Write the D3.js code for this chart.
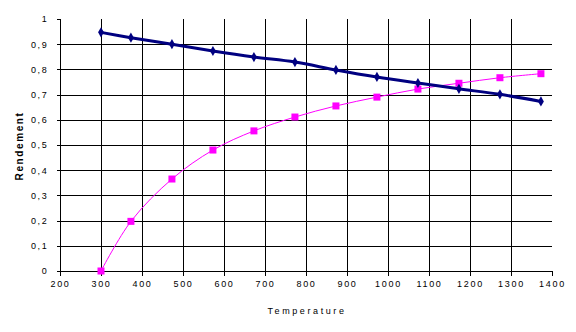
<!DOCTYPE html>
<html><head><meta charset="utf-8">
<script src="https://cdn.jsdelivr.net/npm/d3@7"></script>
<style>
html,body{margin:0;padding:0;background:#fff;}
text{font-family:Arial,"Liberation Sans",sans-serif;fill:#000;}
</style></head>
<body><svg id="c" width="576" height="332"></svg>
<script>
const temps = [300, 373, 473, 573, 673, 773, 873, 973, 1073, 1173, 1273, 1373];
const seriesBlue = [0.947, 0.926, 0.900, 0.873, 0.849, 0.829, 0.798, 0.770, 0.746, 0.723, 0.701, 0.673];
const seriesPink = [0.0, 0.197, 0.365, 0.480, 0.556, 0.611, 0.655, 0.690, 0.722, 0.745, 0.767, 0.783];
const xTicks = [200,300,400,500,600,700,800,900,1000,1100,1200,1300,1400];
const yTicks = [0,0.1,0.2,0.3,0.4,0.5,0.6,0.7,0.8,0.9,1];
const xTitle = "Temperature";
const yTitle = "Rendement";

const svg = d3.select("#c");
const L=60, R=552, T=19, B=271;
const x = d3.scaleLinear().domain([200,1400]).range([L,R]);
const y = d3.scaleLinear().domain([0,1]).range([B,T]);

// gridlines
const g = svg.append("g").attr("shape-rendering","crispEdges");
g.selectAll(".vg").data(xTicks.filter(d=>d>200 && d<1400)).enter().append("line")
  .attr("x1",d=>Math.round(x(d))+0.5).attr("x2",d=>Math.round(x(d))+0.5)
  .attr("y1",T).attr("y2",B).attr("stroke","#000").attr("stroke-width",1);
g.selectAll(".hg").data(yTicks.filter(d=>d>0 && d<1)).enter().append("line")
  .attr("x1",L).attr("x2",R)
  .attr("y1",d=>Math.round(y(d))+0.5).attr("y2",d=>Math.round(y(d))+0.5)
  .attr("stroke","#000").attr("stroke-width",1);

// axes
const xAxis = d3.axisBottom(x).tickValues(xTicks).tickSize(4).tickPadding(5).tickFormat(d=>d);
const yAxis = d3.axisLeft(y).tickValues(yTicks).tickSize(4).tickPadding(8)
  .tickFormat(d=> d===0 ? "0" : d===1 ? "1" : d3.format(".1f")(d).replace(".",","));
const gx = svg.append("g").attr("transform",`translate(0,${B+0.5})`).call(xAxis);
const gy = svg.append("g").attr("transform",`translate(${L+0.5},0)`).call(yAxis);
[gx,gy].forEach(a=>{
  a.attr("shape-rendering","crispEdges");
  a.select(".domain").attr("stroke","#000");
  a.selectAll(".tick line").attr("stroke","#000");
  a.selectAll("text").attr("font-size","9px").attr("letter-spacing","1.7px")
   .style("font-family","Arial,'Liberation Sans',sans-serif").attr("fill","#000");
});
gx.select(".domain").attr("d",`M${L},4V0H${R}V4`);
gy.select(".domain").attr("d",`M-4,${T}H0V${B}H-4`);

// titles
svg.append("text").attr("x",307).attr("y",314).attr("text-anchor","middle")
  .attr("font-size","9px").attr("letter-spacing","2.6px").text(xTitle);
svg.append("text").attr("transform","translate(23,146) rotate(-90)").attr("text-anchor","middle")
  .attr("font-size","10px").attr("font-weight","bold").attr("letter-spacing","1.6px").text(yTitle);

// lines
const line = d3.line().x(d=>x(d[0])).y(d=>y(d[1])).curve(d3.curveCatmullRom.alpha(0.5));
const pinkData = temps.map((t,i)=>[t,seriesPink[i]]);
const blueData = temps.map((t,i)=>[t,seriesBlue[i]]);

svg.append("path").datum(pinkData).attr("d",line).attr("fill","none")
  .attr("stroke","#FF00FF").attr("stroke-width",1);
svg.selectAll(".sq").data(pinkData).enter().append("rect")
  .attr("x",d=>x(d[0])-3.5).attr("y",d=>y(d[1])-3.5).attr("width",7).attr("height",7)
  .attr("fill","#FF00FF");

svg.append("path").datum(blueData).attr("d",line).attr("fill","none")
  .attr("stroke","#000080").attr("stroke-width",3);
svg.selectAll(".dm").data(blueData).enter().append("path")
  .attr("d",d3.symbol().type(d3.symbolDiamond).size(30))
  .attr("transform",d=>`translate(${x(d[0])},${y(d[1])})`)
  .attr("fill","#000080");
</script></body></html>
